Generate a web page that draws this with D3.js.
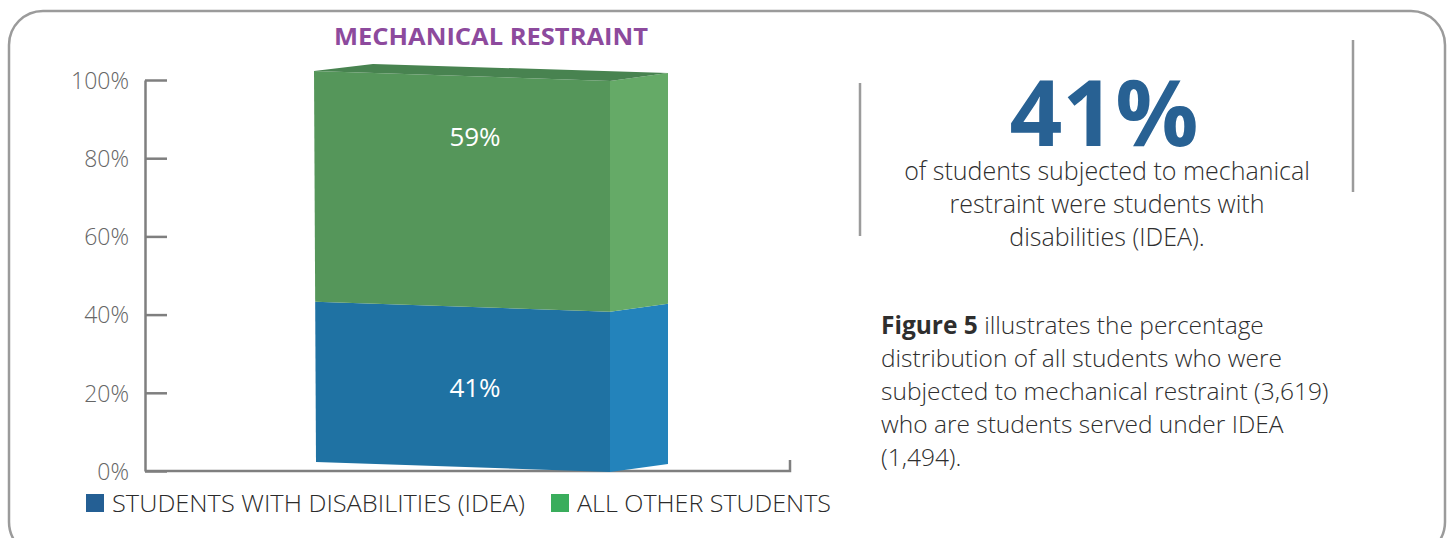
<!DOCTYPE html>
<html>
<head>
<meta charset="utf-8">
<script src="https://cdn.jsdelivr.net/npm/d3@7"></script>
<style>
  html, body { margin: 0; padding: 0; background: #fff; }
  svg text { font-family: "Open Sans", "DejaVu Sans", sans-serif; }
</style>
</head>
<body>
<svg id="chart" width="1452" height="538"></svg>
<script>
// chart data
var title = "MECHANICAL RESTRAINT";
var seriesNames = ["STUDENTS WITH DISABILITIES (IDEA)", "ALL OTHER STUDENTS"];
var seriesValues = [41, 59];
var yTicks = [0, 20, 40, 60, 80, 100];
var bigStat = "41%";
var statLines = ["of students subjected to mechanical", "restraint were students with", "disabilities (IDEA)."];
var noteLines = [
  ["Figure 5", " illustrates the percentage"],
  ["", "distribution of all students who were"],
  ["", "subjected to mechanical restraint (3,619)"],
  ["", "who are students served under IDEA"],
  ["", "(1,494)."]
];

var frontColors = ["#1f72a3", "#55965a"];
var sideColors = ["#2383bb", "#65aa67"];
var topColor = "#488350";
var legendColors = ["#245f94", "#3aad5c"];

var svg = d3.select("#chart");

// rounded frame
svg.append("rect")
  .attr("x", 9).attr("y", 11)
  .attr("width", 1436).attr("height", 545)
  .attr("rx", 34).attr("ry", 34)
  .attr("fill", "none")
  .attr("stroke", "#9b9b9b")
  .attr("stroke-width", 2.5);

var y = d3.scaleLinear().domain([0, 100]).range([471, 80]);

// y axis, ticks point inward
var yAxis = d3.axisLeft(y)
  .tickValues(yTicks)
  .tickSizeInner(-22)
  .tickSizeOuter(0)
  .tickPadding(16)
  .tickFormat(function (d) { return d + "%"; });

var gy = svg.append("g")
  .attr("transform", "translate(145,0)")
  .call(yAxis);
gy.select(".domain").attr("stroke", "#7f7f7f").attr("stroke-width", 2.5);
gy.selectAll(".tick line").attr("stroke", "#7f7f7f").attr("stroke-width", 2.5);
gy.selectAll(".tick text")
  .attr("fill", "#666666")
  .style("font-size", "23px")
  .style("font-weight", 300)
  .attr("dy", "0.36em");

// x axis baseline with right end tick
svg.append("path")
  .attr("d", "M145," + y(0) + "H790V" + (y(0) - 11))
  .attr("fill", "none")
  .attr("stroke", "#7f7f7f")
  .attr("stroke-width", 2.5);

// stacked 3d bar
var stacked = [];
var acc = 0;
seriesValues.forEach(function (v, i) {
  stacked.push({ name: seriesNames[i], v0: acc, v1: acc + v, value: v, i: i });
  acc += v;
});

var xL = 314, xR = 610, xS = 668;
function fl(v) { return y(v) - 9; }  // front left edge
function fr(v) { return y(v) + 1; }  // front right edge
function sr(v) { return y(v) - 7; }  // side right edge

var bar = svg.append("g");
bar.selectAll(".front")
  .data(stacked)
  .enter().append("path")
  .attr("class", "front")
  .attr("fill", function (d) { return frontColors[d.i]; })
  .attr("d", function (d) {
    return "M" + (xL + 2 * (1 - d.v0 / 100)) + "," + fl(d.v0) +
      "L" + xR + "," + fr(d.v0) +
      "L" + xR + "," + fr(d.v1) +
      "L" + (xL + 2 * (1 - d.v1 / 100)) + "," + fl(d.v1) + "Z";
  });

bar.selectAll(".side")
  .data(stacked)
  .enter().append("path")
  .attr("class", "side")
  .attr("fill", function (d) { return sideColors[d.i]; })
  .attr("d", function (d) {
    return "M" + xR + "," + fr(d.v0) +
      "L" + xS + "," + sr(d.v0) +
      "L" + xS + "," + sr(d.v1) +
      "L" + xR + "," + fr(d.v1) + "Z";
  });

// top face
bar.append("path")
  .attr("fill", topColor)
  .attr("d", "M" + xL + "," + fl(100) + "L373," + (y(100) - 16) +
    "L" + xS + "," + sr(100) + "L" + xR + "," + fr(100) + "Z");

// value labels
bar.selectAll(".val")
  .data(stacked)
  .enter().append("text")
  .attr("class", "val")
  .attr("x", 475)
  .attr("y", function (d) { return d.i === 0 ? 388 : 137; })
  .attr("dy", "0.36em")
  .attr("text-anchor", "middle")
  .attr("fill", "#ffffff")
  .style("font-size", "26px")
  .style("font-weight", 400)
  .text(function (d) { return d.value + "%"; });

// title
svg.append("text")
  .attr("x", 491).attr("y", 37)
  .attr("dy", "0.36em")
  .attr("text-anchor", "middle")
  .attr("fill", "#8d4a9d")
  .style("font-size", "23px")
  .style("font-weight", 700)
  .attr("textLength", 314)
  .attr("lengthAdjust", "spacingAndGlyphs")
  .text(title);

// legend
var legendX = [86, 551];
var legendW = [413, 254];
var lg = svg.selectAll(".legend")
  .data(seriesNames)
  .enter().append("g")
  .attr("class", "legend")
  .attr("transform", function (d, i) { return "translate(" + legendX[i] + ",494)"; });
lg.append("rect")
  .attr("width", 18).attr("height", 18)
  .attr("fill", function (d, i) { return legendColors[i]; });
lg.append("text")
  .attr("x", 26).attr("y", 9)
  .attr("dy", "0.36em")
  .attr("fill", "#2b2b2b")
  .style("font-size", "24px")
  .style("font-weight", 300)
  .attr("textLength", function (d, i) { return legendW[i]; })
  .attr("lengthAdjust", "spacingAndGlyphs")
  .text(function (d) { return d; });

// right side callout
svg.append("line")
  .attr("x1", 860).attr("x2", 860).attr("y1", 83).attr("y2", 236)
  .attr("stroke", "#9b9b9b").attr("stroke-width", 2.5);
svg.append("line")
  .attr("x1", 1353).attr("x2", 1353).attr("y1", 40).attr("y2", 192)
  .attr("stroke", "#9b9b9b").attr("stroke-width", 2.5);

svg.append("text")
  .attr("x", 1104).attr("y", 146)
  .attr("text-anchor", "middle")
  .attr("fill", "#286193")
  .style("font-size", "92px")
  .style("font-weight", 700)
  .attr("textLength", 189)
  .attr("lengthAdjust", "spacingAndGlyphs")
  .text(bigStat);

svg.selectAll(".stat")
  .data(statLines)
  .enter().append("text")
  .attr("class", "stat")
  .attr("x", 1107)
  .attr("y", function (d, i) { return 171 + i * 33; })
  .attr("dy", "0.36em")
  .attr("text-anchor", "middle")
  .attr("fill", "#2e2e2e")
  .style("font-size", "25px")
  .style("font-weight", 300)
  .text(function (d) { return d; });

var note = svg.selectAll(".note")
  .data(noteLines)
  .enter().append("text")
  .attr("class", "note")
  .attr("x", 881)
  .attr("y", function (d, i) { return 325 + i * 33; })
  .attr("dy", "0.36em")
  .attr("fill", "#2e2e2e")
  .style("font-size", "24.5px");
note.append("tspan")
  .style("font-weight", 700)
  .text(function (d) { return d[0]; });
note.append("tspan")
  .style("font-weight", 300)
  .text(function (d) { return d[1]; });
</script>
</body>
</html>
